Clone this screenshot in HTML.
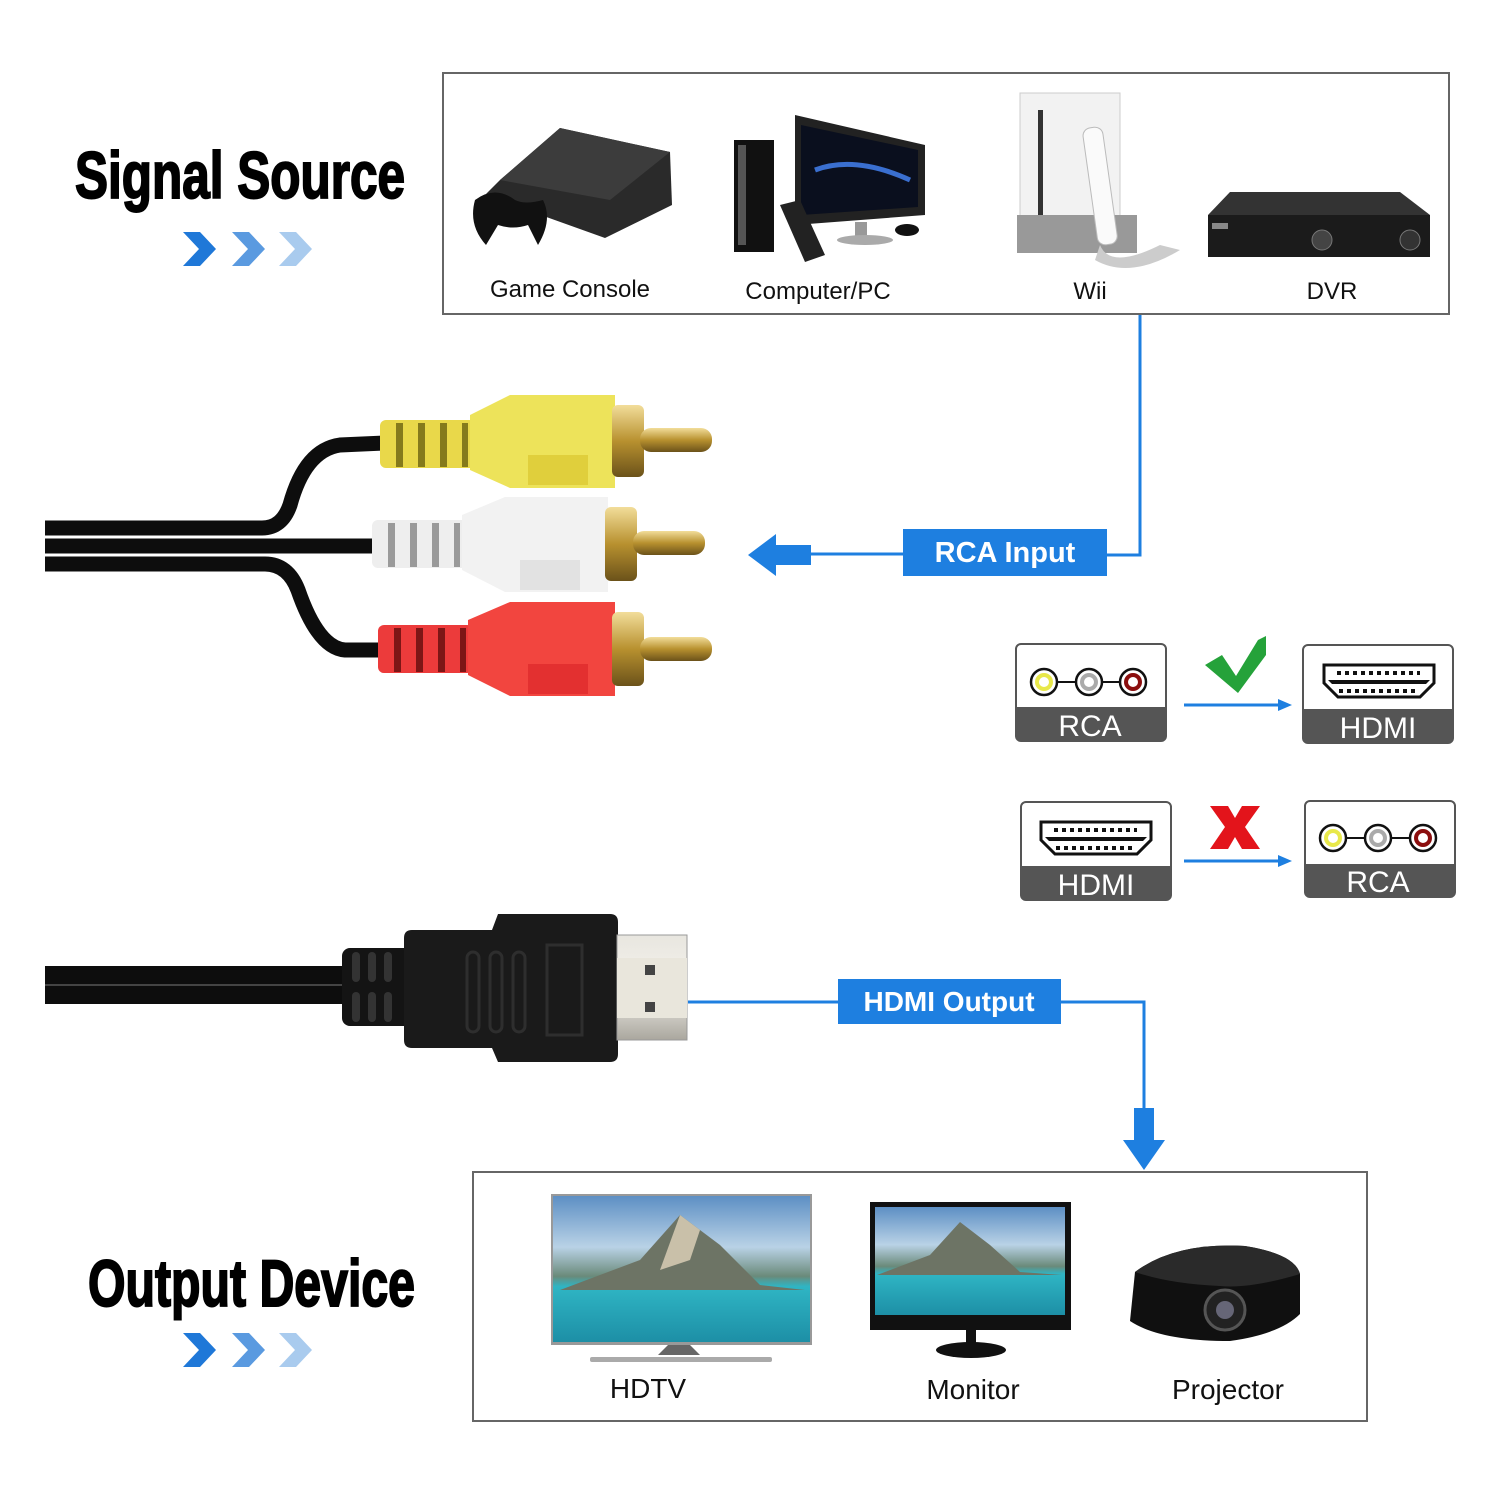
<!DOCTYPE html>
<html><head><meta charset="utf-8"><style>html,body{margin:0;padding:0;background:#fff}svg{display:block}</style></head>
<body>
<svg width="1500" height="1500" viewBox="0 0 1500 1500" xmlns="http://www.w3.org/2000/svg" font-family="Liberation Sans, sans-serif">
<defs>
<linearGradient id="sky" x1="0" y1="0" x2="0" y2="1">
<stop offset="0" stop-color="#5d8fc4"/><stop offset="0.35" stop-color="#b9d2e6"/><stop offset="0.55" stop-color="#6a8a7a"/><stop offset="0.62" stop-color="#2fb5c4"/><stop offset="1" stop-color="#1d8fa6"/>
</linearGradient>
<linearGradient id="gold" x1="0" y1="0" x2="0" y2="1"><stop offset="0" stop-color="#f2dd9a"/><stop offset="0.5" stop-color="#b8912f"/><stop offset="1" stop-color="#6b521a"/></linearGradient>
<linearGradient id="metal" x1="0" y1="0" x2="0" y2="1"><stop offset="0" stop-color="#e8e6df"/><stop offset="0.5" stop-color="#f5f3ee"/><stop offset="1" stop-color="#aaa79e"/></linearGradient>
</defs>

<!-- Titles -->
<text x="75" y="198" font-size="66" font-weight="bold" textLength="330" lengthAdjust="spacingAndGlyphs" stroke="#000" stroke-width="2">Signal Source</text>
<g>
<polygon points="183,232 200,232 216,249 200,266 183,266 199,249" fill="#1f78d8"/>
<polygon points="232,232 249,232 265,249 249,266 232,266 248,249" fill="#5a9ae0"/>
<polygon points="279,232 296,232 312,249 296,266 279,266 295,249" fill="#a9cbee"/>
</g>
<text x="88" y="1306" font-size="66" font-weight="bold" textLength="327" lengthAdjust="spacingAndGlyphs" stroke="#000" stroke-width="2">Output Device</text>
<g>
<polygon points="183,1333 200,1333 216,1350 200,1367 183,1367 199,1350" fill="#1f78d8"/>
<polygon points="232,1333 249,1333 265,1350 249,1367 232,1367 248,1350" fill="#5a9ae0"/>
<polygon points="279,1333 296,1333 312,1350 296,1367 279,1367 295,1350" fill="#a9cbee"/>
</g>

<!-- Top box -->
<rect x="443" y="73" width="1006" height="241" fill="none" stroke="#666" stroke-width="2"/>
<!-- game console -->
<polygon points="500,180 560,128 670,152 672,205 605,238 485,195" fill="#2a2a2a"/>
<polygon points="500,180 560,128 670,152 610,200" fill="#3c3c3c"/>
<path d="M475,200 q20,-15 40,0 q10,5 28,0 q10,20 -5,45 l-10,-20 q-15,5 -30,0 l-12,20 q-18,-20 -11,-45z" fill="#111"/>
<!-- computer -->
<rect x="734" y="140" width="40" height="112" fill="#111"/>
<rect x="738" y="145" width="8" height="100" fill="#555"/>
<polygon points="795,115 925,145 925,215 795,225" fill="#222"/>
<polygon points="801,125 918,150 918,207 801,215" fill="#0a0f1e"/>
<path d="M815,170 q40,-15 95,10" stroke="#3a6fd0" stroke-width="5" fill="none"/>
<rect x="855" y="222" width="12" height="18" fill="#999"/>
<ellipse cx="865" cy="240" rx="28" ry="5" fill="#aaa"/>
<polygon points="780,205 800,200 825,255 805,262" fill="#222"/>
<ellipse cx="907" cy="230" rx="12" ry="6" fill="#111"/>
<!-- wii -->
<rect x="1020" y="93" width="100" height="155" fill="#f2f2f2" stroke="#ccc"/>
<rect x="1038" y="110" width="5" height="125" fill="#333"/>
<rect x="1017" y="215" width="120" height="38" fill="#999"/>
<rect x="1090" y="127" width="20" height="118" rx="8" fill="#fafafa" stroke="#bbb" transform="rotate(-8 1100 185)"/>
<path d="M1100,245 q10,25 60,0 l20,5 q-50,30 -85,10z" fill="#ccc"/>
<!-- dvr -->
<polygon points="1230,192 1400,192 1430,215 1208,215" fill="#333"/>
<rect x="1208" y="215" width="222" height="42" fill="#1b1b1b"/>
<circle cx="1322" cy="240" r="10" fill="#444" stroke="#777"/>
<circle cx="1410" cy="240" r="10" fill="#333" stroke="#777"/>
<rect x="1212" y="223" width="16" height="6" fill="#888"/>
<text x="570" y="297" font-size="24" text-anchor="middle" fill="#111">Game Console</text>
<text x="818" y="299" font-size="24" text-anchor="middle" fill="#111">Computer/PC</text>
<text x="1090" y="299" font-size="24" text-anchor="middle" fill="#111">Wii</text>
<text x="1332" y="299" font-size="24" text-anchor="middle" fill="#111">DVR</text>

<!-- RCA connectors line -->
<polyline points="1140,315 1140,555 1107,555" fill="none" stroke="#1e7fe0" stroke-width="3"/>
<line x1="903" y1="554" x2="805" y2="554" stroke="#1e7fe0" stroke-width="3"/>
<polygon points="748,555 776,534 776,545 811,545 811,565 776,565 776,576" fill="#1e7fe0"/>
<rect x="903" y="529" width="204" height="47" fill="#1e7fe0"/>
<text x="1005" y="562" font-size="29" font-weight="bold" text-anchor="middle" fill="#fff">RCA Input</text>

<!-- cables -->
<g fill="none" stroke="#0d0d0d" stroke-width="15">
<path d="M45,528 L262,528 Q282,528 290,505 Q305,450 340,445 L385,443"/>
<path d="M45,546 L380,546"/>
<path d="M45,564 L265,564 Q288,564 298,590 Q318,648 345,650 L385,650"/>
</g>
<!-- RCA plugs -->
<g id="plug">
</g>
<!-- yellow -->
<g>
<rect x="380" y="420" width="95" height="48" rx="6" fill="#e9d84a"/>
<g fill="#857a1c"><rect x="396" y="423" width="7" height="44"/><rect x="418" y="423" width="7" height="44"/><rect x="440" y="423" width="7" height="44"/><rect x="462" y="423" width="6" height="44"/></g>
<polygon points="470,415 510,395 615,395 615,488 510,488 470,470" fill="#ede35a"/>
<rect x="528" y="455" width="60" height="30" fill="#e0cf3c"/>
<rect x="612" y="405" width="32" height="72" rx="6" fill="url(#gold)"/>
<rect x="640" y="428" width="72" height="24" rx="11" fill="url(#gold)"/>
</g>
<!-- white -->
<g>
<rect x="372" y="520" width="95" height="48" rx="6" fill="#eeeeee"/>
<g fill="#9a9a9a"><rect x="388" y="523" width="7" height="44"/><rect x="410" y="523" width="7" height="44"/><rect x="432" y="523" width="7" height="44"/><rect x="454" y="523" width="6" height="44"/></g>
<polygon points="462,515 505,497 608,497 608,592 505,592 462,570" fill="#f2f2f2"/>
<rect x="520" y="560" width="60" height="30" fill="#e2e2e2"/>
<rect x="605" y="507" width="32" height="74" rx="6" fill="url(#gold)"/>
<rect x="633" y="531" width="72" height="24" rx="11" fill="url(#gold)"/>
</g>
<!-- red -->
<g>
<rect x="378" y="625" width="95" height="48" rx="6" fill="#ec3b3b"/>
<g fill="#7d1616"><rect x="394" y="628" width="7" height="44"/><rect x="416" y="628" width="7" height="44"/><rect x="438" y="628" width="7" height="44"/><rect x="460" y="628" width="6" height="44"/></g>
<polygon points="468,620 510,602 615,602 615,696 510,696 468,675" fill="#f2453f"/>
<rect x="528" y="664" width="60" height="30" fill="#e33030"/>
<rect x="612" y="612" width="32" height="74" rx="6" fill="url(#gold)"/>
<rect x="640" y="637" width="72" height="24" rx="11" fill="url(#gold)"/>
</g>

<!-- RCA/HDMI icons -->
<g>
<rect x="1016" y="644" width="150" height="97" rx="5" fill="#fff" stroke="#555" stroke-width="2"/>
<path d="M1016,707 h150 v29 a5,5 0 0 1 -5,5 h-140 a5,5 0 0 1 -5,-5z" fill="#555"/>
<line x1="1044" y1="682" x2="1133" y2="682" stroke="#111" stroke-width="2"/>
<circle cx="1044" cy="682" r="13" fill="#fff" stroke="#111" stroke-width="2.5"/><circle cx="1044" cy="682" r="7" fill="#fff" stroke="#e8e84a" stroke-width="4"/>
<circle cx="1089" cy="682" r="13" fill="#fff" stroke="#111" stroke-width="2.5"/><circle cx="1089" cy="682" r="7" fill="#fff" stroke="#aaa" stroke-width="4"/>
<circle cx="1133" cy="682" r="13" fill="#fff" stroke="#111" stroke-width="2.5"/><circle cx="1133" cy="682" r="7" fill="#fff" stroke="#8b0e0e" stroke-width="4"/>
<text x="1090" y="736" font-size="30" text-anchor="middle" fill="#fff">RCA</text>
</g>
<g>
<rect x="1303" y="645" width="150" height="98" rx="5" fill="#fff" stroke="#555" stroke-width="2"/>
<path d="M1303,709 h150 v29 a5,5 0 0 1 -5,5 h-140 a5,5 0 0 1 -5,-5z" fill="#555"/>
<path d="M1324,665 h110 v18 l-14,14 h-82 l-14,-14z" fill="#fff" stroke="#111" stroke-width="3"/>
<line x1="1337" y1="673" x2="1420" y2="673" stroke="#111" stroke-width="4" stroke-dasharray="4 4"/>
<polygon points="1328,680 1430,680 1426,684 1332,684" fill="#111"/>
<line x1="1339" y1="691" x2="1417" y2="691" stroke="#111" stroke-width="4" stroke-dasharray="4 4"/>
<text x="1378" y="738" font-size="30" text-anchor="middle" fill="#fff">HDMI</text>
</g>
<line x1="1184" y1="705" x2="1280" y2="705" stroke="#1e7fe0" stroke-width="3"/>
<polygon points="1292,705 1278,699 1278,711" fill="#1e7fe0"/>
<polygon points="1205,665 1222,655 1236,676 1258,640 1266,636 1266,655 1238,693" fill="#25a23a"/>

<g>
<rect x="1021" y="802" width="150" height="98" rx="5" fill="#fff" stroke="#555" stroke-width="2"/>
<path d="M1021,866 h150 v29 a5,5 0 0 1 -5,5 h-140 a5,5 0 0 1 -5,-5z" fill="#555"/>
<path d="M1041,822 h110 v18 l-14,14 h-82 l-14,-14z" fill="#fff" stroke="#111" stroke-width="3"/>
<line x1="1054" y1="830" x2="1137" y2="830" stroke="#111" stroke-width="4" stroke-dasharray="4 4"/>
<polygon points="1045,837 1147,837 1143,841 1049,841" fill="#111"/>
<line x1="1056" y1="848" x2="1134" y2="848" stroke="#111" stroke-width="4" stroke-dasharray="4 4"/>
<text x="1096" y="895" font-size="30" text-anchor="middle" fill="#fff">HDMI</text>
</g>
<g>
<rect x="1305" y="801" width="150" height="96" rx="5" fill="#fff" stroke="#555" stroke-width="2"/>
<path d="M1305,864 h150 v28 a5,5 0 0 1 -5,5 h-140 a5,5 0 0 1 -5,-5z" fill="#555"/>
<line x1="1333" y1="838" x2="1423" y2="838" stroke="#111" stroke-width="2"/>
<circle cx="1333" cy="838" r="13" fill="#fff" stroke="#111" stroke-width="2.5"/><circle cx="1333" cy="838" r="7" fill="#fff" stroke="#e8e84a" stroke-width="4"/>
<circle cx="1378" cy="838" r="13" fill="#fff" stroke="#111" stroke-width="2.5"/><circle cx="1378" cy="838" r="7" fill="#fff" stroke="#aaa" stroke-width="4"/>
<circle cx="1423" cy="838" r="13" fill="#fff" stroke="#111" stroke-width="2.5"/><circle cx="1423" cy="838" r="7" fill="#fff" stroke="#8b0e0e" stroke-width="4"/>
<text x="1378" y="892" font-size="30" text-anchor="middle" fill="#fff">RCA</text>
</g>
<line x1="1184" y1="861" x2="1280" y2="861" stroke="#1e7fe0" stroke-width="3"/>
<polygon points="1292,861 1278,855 1278,867" fill="#1e7fe0"/>
<polygon points="1210,806 1228,806 1235,818 1242,806 1260,806 1245,827 1260,849 1242,849 1235,837 1228,849 1210,849 1225,827" fill="#e3141b"/>

<!-- HDMI plug -->
<rect x="45" y="966" width="305" height="38" fill="#0d0d0d"/>
<line x1="45" y1="985" x2="345" y2="985" stroke="#444" stroke-width="2"/>
<rect x="342" y="948" width="70" height="78" rx="8" fill="#141414"/>
<g fill="#333"><rect x="352" y="952" width="8" height="30" rx="4"/><rect x="368" y="952" width="8" height="30" rx="4"/><rect x="384" y="952" width="8" height="30" rx="4"/><rect x="352" y="992" width="8" height="30" rx="4"/><rect x="368" y="992" width="8" height="30" rx="4"/><rect x="384" y="992" width="8" height="30" rx="4"/></g>
<path d="M412,930 h80 l6,-16 h112 q8,0 8,8 v132 q0,8 -8,8 h-112 l-6,-14 h-80 q-8,0 -8,-8 v-102 q0,-8 8,-8z" fill="#1a1a1a"/>
<g fill="none" stroke="#2e2e2e" stroke-width="3"><rect x="467" y="952" width="12" height="80" rx="6"/><rect x="490" y="952" width="12" height="80" rx="6"/><rect x="513" y="952" width="12" height="80" rx="6"/><rect x="547" y="945" width="35" height="90"/></g>
<rect x="617" y="935" width="70" height="105" fill="url(#metal)" stroke="#999"/>
<rect x="617" y="958" width="70" height="60" fill="#e9e6dc"/>
<rect x="645" y="965" width="10" height="10" fill="#444"/><rect x="645" y="1002" width="10" height="10" fill="#444"/>

<!-- HDMI output line -->
<line x1="688" y1="1002" x2="838" y2="1002" stroke="#1e7fe0" stroke-width="3"/>
<polyline points="1061,1002 1144,1002 1144,1110" fill="none" stroke="#1e7fe0" stroke-width="3"/>
<polygon points="1134,1108 1154,1108 1154,1140 1165,1140 1144,1170 1123,1140 1134,1140" fill="#1e7fe0"/>
<rect x="838" y="979" width="223" height="45" fill="#1e7fe0"/>
<text x="949" y="1011" font-size="28" font-weight="bold" text-anchor="middle" fill="#fff">HDMI Output</text>

<!-- bottom box -->
<rect x="473" y="1172" width="894" height="249" fill="none" stroke="#666" stroke-width="2"/>
<!-- HDTV -->
<rect x="551" y="1194" width="261" height="151" fill="#999"/>
<rect x="553" y="1196" width="257" height="146" fill="url(#sky)"/>
<polygon points="560,1290 640,1260 680,1215 720,1245 760,1285 805,1290" fill="#6d7465"/>
<polygon points="680,1215 700,1230 690,1260 660,1270" fill="#c9c0a9"/>
<polygon points="668,1345 690,1345 700,1355 658,1355" fill="#666"/>
<rect x="590" y="1357" width="182" height="5" rx="2" fill="#aaa"/>
<!-- Monitor -->
<rect x="870" y="1202" width="201" height="128" fill="#111"/>
<rect x="875" y="1207" width="190" height="108" fill="url(#sky)"/>
<polygon points="877,1275 930,1255 960,1222 990,1245 1020,1272 1062,1275" fill="#6d7465"/>
<rect x="966" y="1330" width="10" height="16" fill="#111"/>
<ellipse cx="971" cy="1350" rx="35" ry="8" fill="#111"/>
<!-- Projector -->
<path d="M1135,1272 q40,-30 110,-26 q50,8 55,28 v40 q-20,20 -70,27 q-70,0 -100,-20 z" fill="#101010"/>
<path d="M1135,1272 q40,-30 110,-26 q50,8 55,28 q-50,15 -80,12 q-50,-2 -85,-14z" fill="#2a2a2a"/>
<circle cx="1225" cy="1310" r="20" fill="#222" stroke="#555" stroke-width="3"/>
<circle cx="1225" cy="1310" r="9" fill="#667"/>
<text x="648" y="1398" font-size="28" text-anchor="middle" fill="#111">HDTV</text>
<text x="973" y="1399" font-size="28" text-anchor="middle" fill="#111">Monitor</text>
<text x="1228" y="1399" font-size="28" text-anchor="middle" fill="#111">Projector</text>
</svg>
</body></html>
